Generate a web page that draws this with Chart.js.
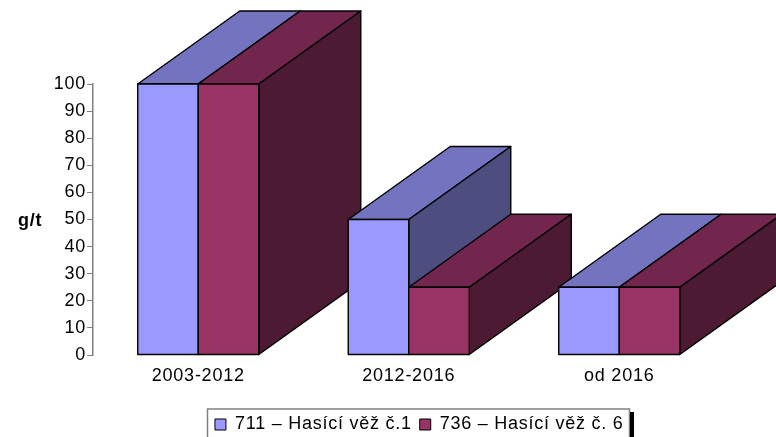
<!DOCTYPE html>
<html><head><meta charset="utf-8">
<style>html,body{margin:0;padding:0;background:#fff}canvas{display:block}</style>
<script src="https://cdn.jsdelivr.net/npm/chart.js@4"></script>
</head><body><canvas id="c" width="776" height="437"></canvas>
<script>
const categories = ['2003-2012', '2012-2016', 'od 2016'];
const series711 = [100, 50, 25];
const series736 = [100, 25, 25];
const seriesNames = ['711 – Hasící věž č.1', '736 – Hasící věž č. 6'];
const yTicks = [0, 10, 20, 30, 40, 50, 60, 70, 80, 90, 100];
const yUnit = 'g/t';
const FONT = '"Liberation Sans", Arial, sans-serif';
const SPACING = '0.75px';
const DX = 102, DY = -73;
const faces = [
  { front: '#9999FF', top: '#7373BF', side: '#4D4D80' },
  { front: '#993366', top: '#72264D', side: '#4D1A33' }
];

function poly(ctx, pts, fill) {
  ctx.beginPath();
  pts.forEach((p, i) => i ? ctx.lineTo(p[0], p[1]) : ctx.moveTo(p[0], p[1]));
  ctx.closePath();
  ctx.fillStyle = fill;
  ctx.fill();
  ctx.stroke();
}

const bars3d = {
  id: 'bars3d',
  beforeUpdate(chart) { chart.ctx.letterSpacing = SPACING; },
  afterLayout(chart) {
    const L = chart.legend;
    L.left += 57; L.right += 57; L.top += 6.5;
  },
  beforeDraw(chart) {
    const ctx = chart.ctx;
    ctx.letterSpacing = SPACING;
    ctx.save();
    ctx.strokeStyle = '#808080'; ctx.lineWidth = 1.5;
    ctx.beginPath();
    ctx.moveTo(207.5, 437); ctx.lineTo(207.5, 409); ctx.lineTo(629.5, 409); ctx.lineTo(629.5, 437);
    ctx.stroke();
    ctx.fillStyle = '#000';
    ctx.fillRect(630, 412, 4, 25);
    ctx.restore();
  },
  afterDatasetsDraw(chart) {
    const ctx = chart.ctx;
    ctx.save();
    ctx.strokeStyle = '#000'; ctx.lineWidth = 1.4; ctx.lineJoin = 'round';
    categories.forEach((_, i) => {
      chart.data.datasets.forEach((ds, d) => {
        const el = chart.getDatasetMeta(d).data[i];
        const l = el.x - el.width / 2, r = el.x + el.width / 2, t = el.y, b = el.base;
        const f = faces[d];
        poly(ctx, [[l, t], [l + DX, t + DY], [r + DX, t + DY], [r, t]], f.top);
        poly(ctx, [[r, t], [r + DX, t + DY], [r + DX, b + DY], [r, b]], f.side);
        poly(ctx, [[l, t], [r, t], [r, b], [l, b]], f.front);
      });
    });
    ctx.fillStyle = '#000';
    ctx.font = 'bold 18px ' + FONT;
    ctx.textAlign = 'left'; ctx.textBaseline = 'middle';
    ctx.fillText(yUnit, 18, 221);
    ctx.restore();
  }
};

new Chart(document.getElementById('c'), {
  type: 'bar',
  plugins: [bars3d],
  data: {
    labels: categories,
    datasets: [
      { label: seriesNames[0], data: series711, backgroundColor: faces[0].front, borderColor: '#000', borderWidth: 1 },
      { label: seriesNames[1], data: series736, backgroundColor: faces[1].front, borderColor: '#000', borderWidth: 1 }
    ]
  },
  options: {
    responsive: false,
    animation: false,
    layout: { padding: { top: 84, left: 0, right: 51.5, bottom: 0 } },
    datasets: { bar: { categoryPercentage: 0.575, barPercentage: 1 } },
    plugins: {
      tooltip: { enabled: false },
      legend: {
        position: 'bottom',
        labels: {
          color: '#000',
          font: { family: FONT, size: 18 },
          boxWidth: 11, boxHeight: 11, padding: 8
        }
      }
    },
    scales: {
      x: {
        grid: { display: false },
        border: { display: false },
        ticks: { color: '#000', font: { family: FONT, size: 18 }, padding: 2, maxRotation: 0 },
        afterFit(s) { s.height = 46; }
      },
      y: {
        min: 0, max: 100,
        afterBuildTicks(s) { s.ticks = yTicks.map(v => ({ value: v })); },
        afterFit(s) { s.width = 93; },
        grid: { drawOnChartArea: false, drawTicks: true, tickLength: 6, color: '#808080', lineWidth: 1 },
        border: { color: '#808080', width: 1.5 },
        ticks: { color: '#000', font: { family: FONT, size: 18 }, padding: 1 }
      }
    }
  }
});
</script></body></html>
